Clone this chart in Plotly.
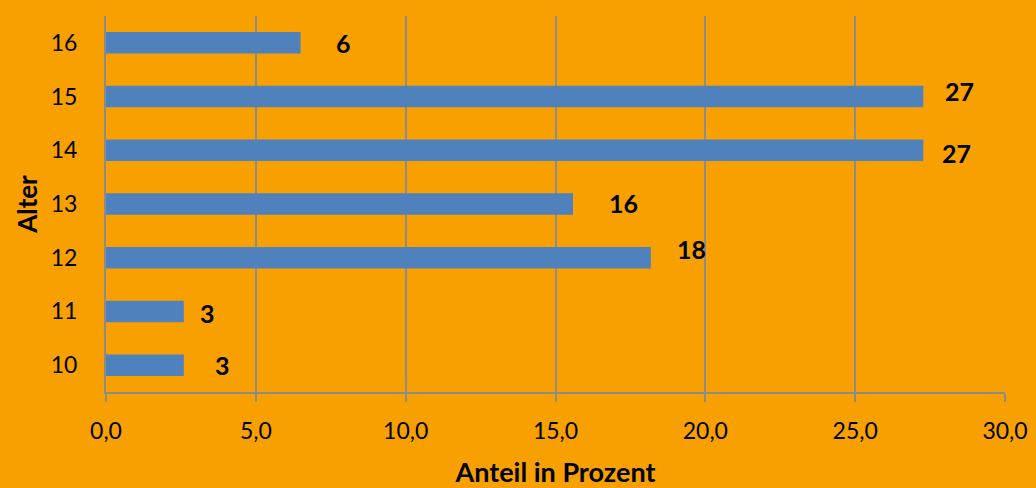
import plotly.graph_objects as go

# Altersverteilung (Anteil in Prozent)
alter = ["10", "11", "12", "13", "14", "15", "16"]
anteil = [2.597, 2.597, 18.182, 15.584, 27.273, 27.273, 6.494]

# label offsets (px) relative to the end of each bar
label_dx = [39, 24, 41, 50, 33, 36, 43]
label_dy = [0, -2, 9, 1, -3, 6, 0]

BG = "#F7A000"
BAR = "#4F81BD"
GRID = "#8C8C8C"
FONT = "Lato, Calibri, sans-serif"

fig = go.Figure(
    go.Bar(
        x=anteil,
        y=alter,
        orientation="h",
        width=0.4,
        marker=dict(color=BAR, line=dict(width=0)),
        hoverinfo="skip",
    )
)

# value labels; category positions are given by index on the category axis
for i, (v, dx, dy) in enumerate(zip(anteil, label_dx, label_dy)):
    fig.add_annotation(
        x=v, y=i, xref="x", yref="y",
        text=f"<b>{v:.0f}</b>",
        showarrow=False,
        xanchor="center", yanchor="middle",
        xshift=dx, yshift=dy,
        font=dict(family=FONT, size=25, color="black"),
    )

fig.update_layout(
    width=1036, height=488,
    margin=dict(l=106, r=31, t=16, b=96),
    paper_bgcolor=BG, plot_bgcolor=BG,
    separators=",.",
    showlegend=False,
    font=dict(family=FONT, size=23, color="black"),
    xaxis=dict(
        range=[0, 30], dtick=5, tickformat=".1f",
        automargin=False,
        showgrid=True, gridcolor=GRID, gridwidth=2,
        showline=True, linecolor=GRID, linewidth=2,
        ticks="outside", ticklen=8, tickwidth=2, tickcolor=GRID,
        ticklabelstandoff=9,
        zeroline=False,
        tickfont=dict(family=FONT, size=23),
        title=dict(text="<b>Anteil in Prozent</b>", standoff=22,
                   font=dict(family=FONT, size=27)),
    ),
    yaxis=dict(
        type="category",
        categoryorder="array", categoryarray=alter,
        range=[-0.5, 6.5],
        automargin=False,
        showgrid=False,
        showline=True, linecolor=GRID, linewidth=2,
        ticks="", ticklabelstandoff=22,
        tickfont=dict(family=FONT, size=23),
        title=dict(text="<b>Alter</b>", standoff=6,
                   font=dict(family=FONT, size=26)),
    ),
)

fig.write_html("out.html")
